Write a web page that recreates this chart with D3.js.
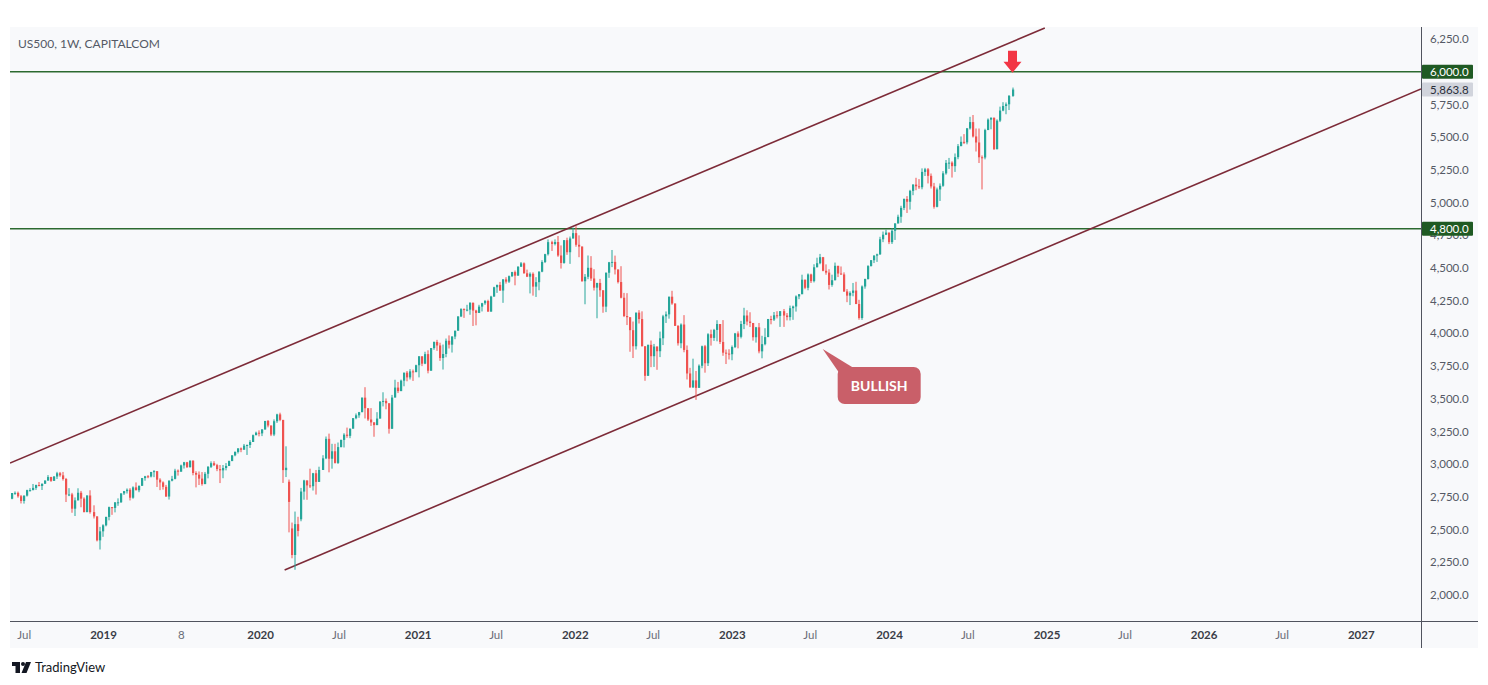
<!DOCTYPE html>
<html>
<head>
<meta charset="utf-8">
<script src="https://cdn.jsdelivr.net/npm/d3@7"></script>
<style>
  html, body { margin: 0; padding: 0; background: #ffffff; }
  svg { display: block; }
  text { font-family: Lato, "Noto Sans", "DejaVu Sans", sans-serif; }
</style>
</head>
<body>
<svg id="chart" width="1488" height="685"></svg>
<script>
// ---------------- DATA (weekly candles, [open, high, low, close]) ----------------
const firstWeek = "2018-06-04";
const ohlc2018 = [
[2735,2779,2731,2779],[2779,2791,2765,2780],[2780,2790,2743,2754],[2754,2764,2699,2718],
[2718,2760,2698,2759],[2759,2804,2752,2801],[2801,2816,2790,2801],[2801,2848,2800,2818],
[2818,2843,2803,2840],[2840,2863,2830,2833],[2833,2851,2802,2850],[2850,2876,2848,2874],
[2874,2916,2874,2901],[2901,2903,2864,2872],[2872,2908,2872,2905],[2905,2941,2886,2930],
[2930,2940,2903,2914],[2914,2940,2874,2886],[2886,2894,2710,2767],[2767,2816,2755,2768],
[2768,2780,2628,2659],[2659,2745,2603,2723],[2723,2815,2722,2781],[2781,2795,2670,2736],
[2736,2746,2631,2633],[2633,2761,2632,2760],[2760,2800,2621,2633],[2633,2685,2584,2600],
[2600,2601,2409,2417],[2417,2520,2347,2486],[2486,2540,2444,2532]
];
const ohlc2019 = [
[2532,2598,2524,2596],[2596,2675,2570,2671],[2671,2672,2612,2665],[2665,2710,2631,2707],
[2707,2738,2681,2708],[2708,2776,2704,2776],[2776,2795,2764,2793],[2793,2814,2775,2804],
[2804,2816,2722,2743],[2743,2830,2735,2822],[2822,2860,2800,2800],[2800,2836,2785,2834],
[2834,2894,2834,2893],[2893,2910,2873,2907],[2907,2916,2892,2905],[2905,2940,2898,2940],
[2940,2954,2900,2946],[2946,2946,2825,2881],[2881,2892,2801,2860],[2860,2868,2805,2826],
[2826,2841,2750,2752],[2752,2876,2729,2873],[2873,2910,2868,2887],[2887,2964,2883,2950],
[2950,2959,2912,2942],[2942,2996,2942,2990],[2990,3017,2966,3014],[3014,3017,2970,2977],
[2977,3028,2973,3026],[3026,3029,2914,2932],[2932,2945,2822,2919],[2919,2944,2840,2889],
[2889,2939,2835,2847],[2847,2940,2847,2926],[2926,2985,2891,2979],[2979,3021,2970,3007],
[3007,3022,2985,2992],[2992,3002,2946,2962],[2962,2993,2855,2952],[2952,2993,2892,2970],
[2970,3008,2952,2986],[2986,3027,2985,3023],[3023,3067,3023,3067],[3067,3097,3060,3093],
[3093,3121,3081,3120],[3120,3127,3091,3110],[3110,3154,3110,3141],[3141,3150,3070,3146],
[3146,3183,3123,3169],[3169,3226,3169,3221],[3221,3248,3221,3240],[3240,3258,3212,3235]
];
const ohlc2020 = [
[3235,3267,3214,3265],[3265,3330,3263,3330],[3330,3337,3281,3295],[3295,3295,3214,3226],
[3226,3342,3214,3328],[3328,3385,3315,3380],[3380,3393,3328,3338],[3338,3338,2856,2954],
[2954,3136,2901,2972],[2865,2882,2478,2711],[2508,2553,2280,2305],[2305,2637,2192,2541],
[2541,2597,2447,2489],[2578,2818,2563,2790],[2790,2880,2728,2875],[2875,2875,2727,2837],
[2837,2965,2817,2831],[2831,2933,2798,2930],[2930,2955,2767,2864],[2864,2980,2864,2955],
[2955,3068,2955,3044],[3044,3211,3038,3193],[3193,3233,2937,3041],[3041,3155,2965,3098],
[3098,3155,3004,3009],[3009,3165,3001,3130],[3130,3187,3128,3185],[3185,3236,3127,3225],
[3225,3279,3201,3216],[3216,3272,3198,3271],[3271,3352,3271,3351],[3351,3387,3343,3373],
[3373,3399,3354,3397],[3397,3509,3397,3508],[3508,3588,3349,3427],[3427,3427,3330,3341],
[3341,3428,3292,3319],[3319,3320,3209,3298],[3298,3397,3298,3348],[3348,3482,3348,3477],
[3477,3549,3441,3483],[3483,3502,3419,3465],[3465,3465,3233,3270],[3270,3529,3270,3509],
[3509,3645,3509,3585],[3585,3628,3543,3558],[3558,3646,3558,3638],[3638,3699,3595,3699],
[3699,3712,3633,3663],[3663,3726,3647,3709],[3709,3723,3636,3703],[3703,3760,3703,3756]
];
const ohlc2021 = [
[3756,3826,3663,3824],[3824,3824,3749,3768],[3768,3859,3764,3841],[3841,3870,3694,3714],
[3714,3887,3714,3887],[3887,3937,3874,3934],[3934,3950,3866,3907],[3907,3928,3789,3811],
[3811,3914,3723,3842],[3842,3960,3817,3943],[3943,3984,3884,3913],[3913,3978,3853,3975],
[3975,4020,3955,4020],[4020,4130,4020,4129],[4129,4192,4124,4185],[4185,4191,4118,4180],
[4180,4218,4168,4181],[4181,4238,4142,4233],[4233,4236,4056,4174],[4174,4180,4061,4156],
[4156,4218,4155,4204],[4204,4233,4167,4230],[4230,4255,4218,4247],[4247,4257,4165,4166],
[4166,4287,4165,4281],[4281,4356,4280,4352],[4352,4372,4309,4370],[4370,4393,4324,4327],
[4327,4415,4233,4412],[4412,4429,4380,4395],[4395,4442,4385,4437],[4437,4470,4430,4468],
[4468,4480,4367,4441],[4441,4513,4441,4509],[4509,4545,4509,4535],[4535,4542,4456,4459],
[4459,4487,4430,4433],[4433,4466,4305,4455],[4455,4466,4288,4357],[4357,4429,4278,4391],
[4391,4475,4329,4471],[4471,4559,4467,4545],[4545,4608,4537,4605],[4605,4718,4595,4697],
[4697,4708,4630,4683],[4683,4718,4672,4698],[4698,4744,4585,4595],[4595,4672,4495,4538],
[4538,4713,4532,4712],[4712,4731,4600,4620],[4620,4740,4531,4725],[4725,4808,4725,4766]
];
const ohlc2022 = [
[4766,4819,4662,4677],[4677,4749,4582,4663],[4663,4665,4395,4398],[4398,4453,4222,4432],
[4432,4595,4414,4501],[4501,4590,4401,4419],[4419,4490,4327,4349],[4349,4386,4115,4385],
[4385,4416,4279,4329],[4329,4329,4157,4204],[4204,4465,4162,4463],[4463,4546,4424,4543],
[4543,4637,4506,4546],[4546,4594,4450,4488],[4488,4488,4381,4392],[4392,4513,4267,4272],
[4272,4309,4124,4132],[4132,4307,4063,4123],[4123,4123,3859,4024],[4024,4090,3811,3901],
[3901,4158,3876,4158],[4158,4177,4075,4109],[4109,4168,3900,3901],[3901,3901,3637,3675],
[3675,3913,3675,3912],[3912,3945,3741,3825],[3825,3919,3743,3899],[3899,3899,3721,3863],
[3863,4013,3818,3962],[3962,4141,3910,4130],[4130,4167,4079,4145],[4145,4280,4112,4280],
[4280,4325,4218,4228],[4228,4228,4057,4057],[4057,4062,3906,3924],[3924,4076,3886,4067],
[4067,4139,3855,3873],[3873,3907,3647,3693],[3693,3736,3585,3586],[3586,3806,3584,3640],
[3640,3712,3491,3583],[3583,3762,3583,3752],[3752,3906,3733,3901],[3901,3911,3699,3771],
[3771,4001,3750,3993],[3993,4028,3906,3965],[3965,4034,3942,4026],[4026,4100,3939,4071],
[4071,4071,3918,3934],[3934,4101,3828,3852],[3852,3876,3765,3845],[3845,3878,3800,3840]
];
const ohlc2023 = [
[3840,3907,3794,3895],[3895,4003,3887,3999],[3999,4015,3885,3973],[3973,4095,3961,4071],
[4071,4195,4032,4136],[4136,4176,4061,4090],[4090,4161,4048,4079],[4079,4079,3944,3970],
[3970,4049,3929,4046],[4046,4079,3847,3862],[3862,3981,3809,3917],[3917,4039,3908,3971],
[3971,4110,3971,4109],[4109,4134,4069,4105],[4105,4163,4094,4138],[4138,4169,4114,4133],
[4133,4170,4049,4169],[4169,4186,4049,4136],[4136,4155,4099,4124],[4124,4212,4098,4192],
[4192,4212,4103,4205],[4205,4290,4166,4282],[4282,4299,4261,4299],[4299,4448,4299,4410],
[4410,4410,4337,4348],[4348,4458,4329,4450],[4450,4456,4385,4399],[4399,4528,4389,4505],
[4505,4578,4504,4536],[4536,4607,4528,4582],[4582,4584,4474,4478],[4478,4527,4448,4464],
[4464,4490,4335,4370],[4370,4448,4356,4406],[4406,4541,4404,4516],[4516,4516,4430,4457],
[4457,4511,4448,4450],[4450,4466,4316,4320],[4320,4338,4238,4288],[4288,4321,4216,4309],
[4309,4385,4283,4327],[4327,4394,4223,4224],[4224,4256,4104,4117],[4117,4366,4103,4358],
[4358,4418,4341,4415],[4415,4521,4411,4514],[4514,4560,4511,4559],[4559,4597,4537,4594],
[4594,4609,4546,4604],[4604,4738,4599,4719],[4719,4778,4697,4754],[4754,4793,4751,4770]
];
const ohlc2024 = [
[4770,4770,4682,4697],[4697,4803,4683,4784],[4784,4842,4714,4840],[4840,4907,4840,4891],
[4891,4975,4845,4959],[4959,5031,4942,5027],[5027,5049,4920,5006],[5006,5097,4946,5089],
[5089,5140,5056,5137],[5137,5189,5094,5124],[5124,5179,5104,5117],[5117,5261,5101,5234],
[5234,5265,5203,5254],[5254,5264,5146,5204],[5204,5222,5107,5123],[5123,5150,4953,4967],
[4967,5114,4963,5100],[5100,5146,5012,5128],[5128,5240,5120,5223],[5223,5325,5213,5303],
[5303,5341,5257,5305],[5305,5315,5191,5278],[5278,5375,5234,5347],[5347,5447,5331,5431],
[5431,5505,5431,5464],[5464,5523,5447,5460],[5460,5570,5445,5567],[5567,5655,5558,5615],
[5615,5669,5497,5505],[5505,5566,5390,5459],[5459,5566,5302,5346],[5346,5360,5100,5344],
[5344,5564,5330,5554],[5554,5643,5554,5634],[5634,5651,5560,5648],[5648,5650,5402,5408],
[5408,5636,5406,5626],[5626,5733,5615,5703],[5703,5767,5698,5738],[5738,5765,5675,5751],
[5751,5822,5707,5815],[5815,5879,5808,5863.8]
];

const xTickDates  = ["2018-07-01","2019-01-01","2019-07-01","2020-01-01","2020-07-01","2021-01-01","2021-07-01","2022-01-01","2022-07-01","2023-01-01","2023-07-01","2024-01-01","2024-07-01","2025-01-01","2025-07-01","2026-01-01","2026-07-01","2027-01-01"];
const xTickLabels = ["Jul","2019","8","2020","Jul","2021","Jul","2022","Jul","2023","Jul","2024","Jul","2025","Jul","2026","Jul","2027"];
const yTickValues = [2000,2250,2500,2750,3000,3250,3500,3750,4000,4250,4500,4750,5000,5250,5500,5750,6000,6250];
const levelLines  = [6000, 4800];
const channelUpper = [["2018-05-30", 3008], ["2024-12-28", 6334]];
const channelLower = [["2020-02-27", 2190], ["2027-05-21", 5868]];
const calloutText = "BULLISH";
const calloutAnchor = ["2023-07-31", 3880];
const titleText = "US500, 1W, CAPITALCOM";

// ---------------- SETUP ----------------
const parse = d3.utcParse("%Y-%m-%d");
const start = parse(firstWeek);
const candles = [].concat(ohlc2018, ohlc2019, ohlc2020, ohlc2021, ohlc2022, ohlc2023, ohlc2024)
  .map((r, i) => ({ date: d3.utcWeek.offset(start, i), open: r[0], high: r[1], low: r[2], close: r[3] }));

const W = 1488, H = 685;
const pane = { x0: 10, y0: 27, x1: 1478, y1: 648 };
const plot = { x0: 10, y0: 27, x1: 1421, y1: 621 };

const x = d3.scaleUtc().domain([parse("2018-05-30"), parse("2027-05-21")]).range([plot.x0, plot.x1]);
const y = d3.scaleLinear().domain([1808, 6342]).range([620, 27]);

const svg = d3.select("#chart");
svg.append("rect").attr("width", W).attr("height", H).attr("fill", "#ffffff");
svg.append("rect").attr("x", pane.x0).attr("y", pane.y0)
  .attr("width", pane.x1 - pane.x0).attr("height", pane.y1 - pane.y0).attr("fill", "#f8f9fb");

const defs = svg.append("defs");
defs.append("clipPath").attr("id", "clip").append("rect")
  .attr("x", plot.x0).attr("y", plot.y0).attr("width", plot.x1 - plot.x0).attr("height", plot.y1 - plot.y0);

// title
svg.append("text").attr("x", 18).attr("y", 48).attr("font-size", 12).attr("fill", "#555a66").text(titleText);

const g = svg.append("g").attr("clip-path", "url(#clip)");

// level lines
g.selectAll("line.level").data(levelLines).join("line")
  .attr("x1", plot.x0).attr("x2", plot.x1)
  .attr("y1", d => y(d)).attr("y2", d => y(d))
  .attr("stroke", "#2c6a30").attr("stroke-width", 1.6);

// channel lines
[channelUpper, channelLower].forEach(c => {
  g.append("line")
    .attr("x1", x(parse(c[0][0]))).attr("y1", y(c[0][1]))
    .attr("x2", x(parse(c[1][0]))).attr("y2", y(c[1][1]))
    .attr("stroke", "#7d2b38").attr("stroke-width", 1.6);
});

// candles
const up = "#26a69a", down = "#ef5350";
const cg = g.append("g");
candles.forEach(d => {
  const cx = Math.round(x(d.date));
  const col = d.close >= d.open ? up : down;
  cg.append("line").attr("x1", cx).attr("x2", cx)
    .attr("y1", y(d.high)).attr("y2", y(d.low)).attr("stroke", col).attr("stroke-width", 1);
  const top = y(Math.max(d.open, d.close)), bot = y(Math.min(d.open, d.close));
  cg.append("rect").attr("x", cx - 1).attr("width", 2.2)
    .attr("y", top).attr("height", Math.max(1, bot - top)).attr("fill", col);
});

// axes lines
svg.append("line").attr("x1", plot.x1 + 0.5).attr("x2", plot.x1 + 0.5).attr("y1", pane.y0).attr("y2", pane.y1)
  .attr("stroke", "#50535e").attr("stroke-width", 1);
svg.append("line").attr("x1", pane.x0).attr("x2", pane.x1).attr("y1", plot.y1 + 0.5).attr("y2", plot.y1 + 0.5)
  .attr("stroke", "#50535e").attr("stroke-width", 1);

// y axis
const yAxis = d3.axisRight(y).tickValues(yTickValues).tickSize(0).tickPadding(9).tickFormat(d3.format(",.1f"));
const ya = svg.append("g").attr("transform", `translate(${plot.x1},0)`).call(yAxis);
ya.select(".domain").remove();
ya.selectAll("text").attr("font-size", 11.5).attr("fill", "#555a66").attr("font-family", "Lato, 'Noto Sans', sans-serif");

// x axis
const xAxis = d3.axisBottom(x).tickValues(xTickDates.map(parse)).tickSize(0).tickPadding(10)
  .tickFormat((d, i) => xTickLabels[i]);
const xa = svg.append("g").attr("transform", `translate(0,${plot.y1})`).call(xAxis);
xa.select(".domain").remove();
xa.selectAll("text").attr("font-size", 11.5).attr("font-family", "Lato, 'Noto Sans', sans-serif")
  .attr("fill", (d, i) => /^\d{4}$/.test(xTickLabels[i]) ? "#3a3d47" : "#6a6d78")
  .attr("font-weight", (d, i) => /^\d{4}$/.test(xTickLabels[i]) ? "bold" : "normal");

// price labels on axis
function priceTag(v, bg, fg) {
  const cy = y(v);
  svg.append("rect").attr("x", plot.x1 + 1).attr("y", cy - 7).attr("width", 51).attr("height", 14)
    .attr("fill", bg).attr("rx", 1);
  svg.append("text").attr("x", plot.x1 + 9).attr("y", cy + 4).attr("font-size", 11.5)
    .attr("fill", fg).text(d3.format(",.1f")(v));
}
const last = candles[candles.length - 1];
priceTag(last.close, "#d1d4dc", "#2a2e39");
levelLines.forEach(v => priceTag(v, "#1f5a23", "#ffffff"));

// red arrow above last candle at the 6000 level
(function () {
  const ax = x(last.date), ay = y(levelLines[0]) + 1;
  const p = d3.path();
  p.moveTo(ax, ay);
  p.lineTo(ax - 9, ay - 11);
  p.lineTo(ax - 4.5, ay - 11);
  p.lineTo(ax - 4.5, ay - 22);
  p.lineTo(ax + 4.5, ay - 22);
  p.lineTo(ax + 4.5, ay - 11);
  p.lineTo(ax + 9, ay - 11);
  p.closePath();
  svg.append("path").attr("d", p.toString()).attr("fill", "#f23645");
})();

// BULLISH callout
(function () {
  const tx = x(parse(calloutAnchor[0])), ty = y(calloutAnchor[1]);
  const bx = tx + 15, by = ty + 18, bw = 83, bh = 37;
  const cgp = svg.append("g");
  cgp.append("path")
    .attr("d", `M${tx},${ty} L${bx + 16},${by + 1} L${bx + 3},${by + 8} Z`)
    .attr("fill", "#c95f69");
  cgp.append("rect").attr("x", bx).attr("y", by).attr("width", bw).attr("height", bh).attr("rx", 7)
    .attr("fill", "#c95f69");
  cgp.append("text").attr("x", bx + bw / 2).attr("y", by + bh / 2 + 5).attr("text-anchor", "middle")
    .attr("font-size", 14).attr("font-weight", "bold").attr("fill", "#ffffff").text(calloutText);
})();

// TradingView logo
(function () {
  const lg = svg.append("g").attr("fill", "#131722");
  lg.append("rect").attr("x", 12).attr("y", 662).attr("width", 8).attr("height", 4);
  lg.append("rect").attr("x", 15.5).attr("y", 662).attr("width", 4.5).attr("height", 11);
  lg.append("circle").attr("cx", 23).attr("cy", 664).attr("r", 2);
  lg.append("path").attr("d", "M26,662 L31,662 L26.5,673 L21.5,673 Z");
  svg.append("text").attr("x", 35).attr("y", 672).attr("font-size", 13).attr("fill", "#131722")
    .attr("font-family", "Lato, 'Noto Sans', sans-serif").text("TradingView");
})();
</script>
</body>
</html>
